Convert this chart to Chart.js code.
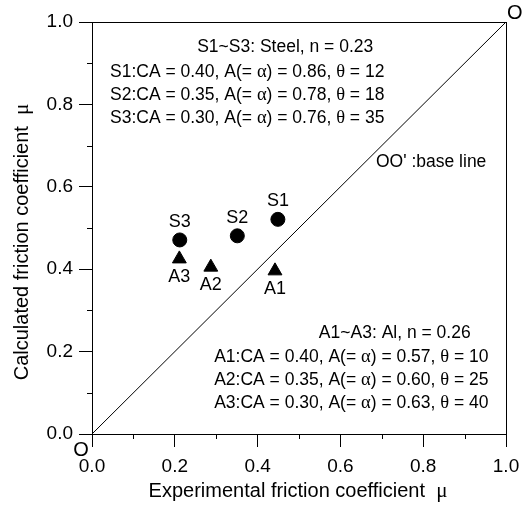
<!DOCTYPE html>
<html lang="en">
<head>
<meta charset="UTF-8">
<title>Friction coefficient comparison</title>
<script src="https://cdn.jsdelivr.net/npm/chart.js@4.4.1/dist/chart.umd.min.js"></script>
<style>
  body { margin: 0; background: #fff; }
</style>
</head>
<body>
<canvas id="chart" width="523" height="506"></canvas>
<script>
// measured values
const steelLabels = ['S1', 'S2', 'S3'];
const steelX = [0.449, 0.351, 0.212];
const steelY = [0.521, 0.481, 0.471];

const alLabels = ['A1', 'A2', 'A3'];
const alX = [0.442, 0.287, 0.211];
const alY = [0.396, 0.405, 0.425];

const baseX = [0, 1];
const baseY = [0, 1];

const axisTicks = [0, 0.2, 0.4, 0.6, 0.8, 1.0];
const minorTicks = [0.1, 0.3, 0.5, 0.7, 0.9];

const steelNotes = [
  'S1~S3: Steel, n = 0.23',
  'S1:CA = 0.40, A(= α) = 0.86, θ = 12',
  'S2:CA = 0.35, A(= α) = 0.78, θ = 18',
  'S3:CA = 0.30, A(= α) = 0.76, θ = 35'
];
const alNotes = [
  'A1~A3: Al, n = 0.26',
  'A1:CA = 0.40, A(= α) = 0.57, θ = 10',
  'A2:CA = 0.35, A(= α) = 0.60, θ = 25',
  'A3:CA = 0.30, A(= α) = 0.63, θ = 40'
];
const baseNote = "OO' :base line";
const xTitle = 'Experimental friction coefficient  μ';
const yTitle = 'Calculated friction coefficient  μ';

const SANS = '"Liberation Sans", Arial, sans-serif';
const SERIF = '"Liberation Serif", "Times New Roman", serif';
const greek = /([αθμ])/;

// draws text with greek letters in a serif face (like the Symbol font)
function drawMixed(ctx, text, x, y, size, align) {
  const parts = text.split(greek).filter(p => p.length);
  const fontOf = p => greek.test(p) ? (size + 1) + 'px ' + SERIF : size + 'px ' + SANS;
  let total = 0;
  parts.forEach(p => { ctx.font = fontOf(p); total += ctx.measureText(p).width; });
  let cx = x;
  if (align === 'center') cx = x - total / 2;
  if (align === 'right') cx = x - total;
  ctx.textAlign = 'left';
  ctx.textBaseline = 'middle';
  parts.forEach(p => {
    ctx.font = fontOf(p);
    ctx.fillText(p, cx, y);
    cx += ctx.measureText(p).width;
  });
}

const decorations = {
  id: 'decorations',
  afterDraw(chart) {
    const ctx = chart.ctx;
    const a = chart.chartArea;
    const xs = chart.scales.x, ys = chart.scales.y;
    ctx.save();
    ctx.strokeStyle = '#000';
    ctx.fillStyle = '#000';
    ctx.lineWidth = 1;

    // frame
    ctx.strokeRect(a.left + 0.5, a.top + 0.5, a.right - a.left, a.bottom - a.top);

    // minor ticks
    ctx.beginPath();
    minorTicks.forEach(v => {
      const px = Math.round(xs.getPixelForValue(v)) + 0.5;
      ctx.moveTo(px, a.bottom);
      ctx.lineTo(px, a.bottom + 5);
      const py = Math.round(ys.getPixelForValue(v)) + 0.5;
      ctx.moveTo(a.left, py);
      ctx.lineTo(a.left - 5, py);
    });
    ctx.stroke();

    // point labels
    ctx.font = '18px ' + SANS;
    ctx.textAlign = 'center';
    ctx.textBaseline = 'middle';
    chart.getDatasetMeta(0).data.forEach((el, i) => {
      ctx.fillText(steelLabels[i], el.x, el.y - 18);
    });
    chart.getDatasetMeta(1).data.forEach((el, i) => {
      ctx.fillText(alLabels[i], el.x, el.y + 18);
    });

    // notes
    const fs = 17.5;
    const lineGap = ys.getPixelForValue(0) - ys.getPixelForValue(0.056);
    drawMixed(ctx, steelNotes[0], xs.getPixelForValue(0.254), ys.getPixelForValue(0.939), fs, 'left');
    steelNotes.slice(1).forEach((t, i) => {
      drawMixed(ctx, t, xs.getPixelForValue(0.0435), ys.getPixelForValue(0.879) + i * lineGap, fs, 'left');
    });
    drawMixed(ctx, alNotes[0], xs.getPixelForValue(0.548), ys.getPixelForValue(0.245), fs, 'left');
    alNotes.slice(1).forEach((t, i) => {
      drawMixed(ctx, t, xs.getPixelForValue(0.295), ys.getPixelForValue(0.187) + i * lineGap, fs, 'left');
    });
    drawMixed(ctx, baseNote, xs.getPixelForValue(0.686), ys.getPixelForValue(0.66), fs, 'left');

    // O and O' at the ends of the base line
    ctx.font = '20px ' + SANS;
    ctx.textAlign = 'left';
    ctx.textBaseline = 'middle';
    ctx.fillText("O'", xs.getPixelForValue(1) + 1, ys.getPixelForValue(1) - 9);
    ctx.textAlign = 'center';
    ctx.fillText('O', xs.getPixelForValue(0) - 11, ys.getPixelForValue(0) + 16);

    // axis titles
    drawMixed(ctx, xTitle, 298, 491, 20, 'center');
    ctx.translate(22, 242);
    ctx.rotate(-Math.PI / 2);
    drawMixed(ctx, yTitle, 0, 0, 20, 'center');
    ctx.restore();
  }
};

const tickFont = { family: SANS, size: 19 };

new Chart(document.getElementById('chart'), {
  type: 'scatter',
  data: {
    datasets: [
      {
        label: 'Steel',
        data: steelX.map((x, i) => ({ x: x, y: steelY[i] })),
        pointStyle: 'circle',
        pointRadius: 7,
        backgroundColor: '#000',
        borderColor: '#000',
        borderWidth: 1
      },
      {
        label: 'Al',
        data: alX.map((x, i) => ({ x: x, y: alY[i] })),
        pointStyle: 'triangle',
        pointRadius: 8,
        backgroundColor: '#000',
        borderColor: '#000',
        borderWidth: 1
      },
      {
        type: 'line',
        label: 'base line',
        data: baseX.map((x, i) => ({ x: x, y: baseY[i] })),
        borderColor: '#000',
        borderWidth: 1,
        pointRadius: 0,
        fill: false
      }
    ]
  },
  options: {
    responsive: false,
    animation: false,
    layout: { padding: { left: 0, right: 17, top: 22, bottom: 0 } },
    plugins: { legend: { display: false }, tooltip: { enabled: false } },
    scales: {
      x: {
        type: 'linear',
        min: 0, max: 1,
        afterFit: s => { s.height = 72; s.paddingLeft = 0; s.paddingRight = 0; },
        afterBuildTicks: s => { s.ticks = axisTicks.map(v => ({ value: v })); },
        border: { display: true, color: '#000', width: 1 },
        grid: { drawOnChartArea: false, drawTicks: true, tickLength: 13, color: '#000' },
        ticks: { font: tickFont, color: '#000', padding: 8, maxRotation: 0, callback: v => v.toFixed(1) }
      },
      y: {
        type: 'linear',
        min: 0, max: 1,
        afterFit: s => { s.width = 92; s.paddingTop = 0; s.paddingBottom = 0; },
        afterBuildTicks: s => { s.ticks = axisTicks.map(v => ({ value: v })); },
        border: { display: true, color: '#000', width: 1 },
        grid: { drawOnChartArea: false, drawTicks: true, tickLength: 13, color: '#000' },
        ticks: { font: tickFont, color: '#000', padding: 6, callback: v => v.toFixed(1) }
      }
    }
  },
  plugins: [decorations]
});
</script>
</body>
</html>
